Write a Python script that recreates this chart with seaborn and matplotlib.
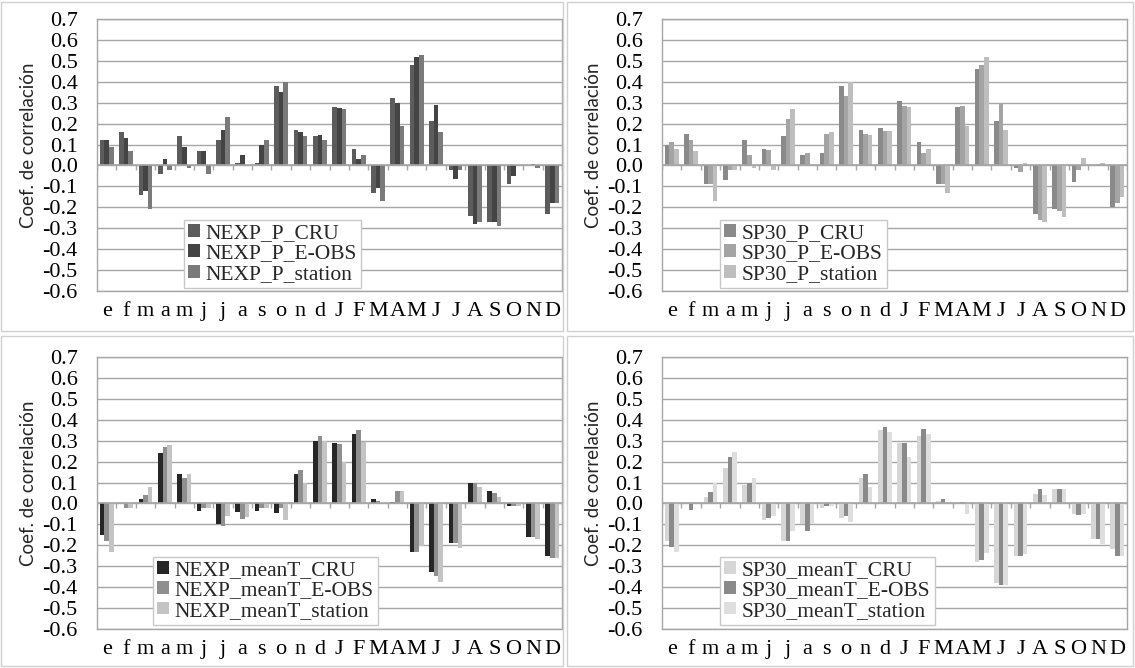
import numpy as np
import pandas as pd
import matplotlib
matplotlib.use("Agg")
import matplotlib.pyplot as plt
from matplotlib.patches import Rectangle
import seaborn as sns

# -----------------------------------------
# Data
# -----------------------------------------

months = ["e", "f", "m", "a", "m", "j", "j", "a", "s", "o", "n", "d",
          "J", "F", "M", "A", "M", "J", "J", "A", "S", "O", "N", "D"]

yticks = [-0.6, -0.5, -0.4, -0.3, -0.2, -0.1, 0.0, 0.1, 0.2, 0.3, 0.4, 0.5, 0.6, 0.7]
ytick_labels = ["-0.6", "-0.5", "-0.4", "-0.3", "-0.2", "-0.1", "0.0",
                "0.1", "0.2", "0.3", "0.4", "0.5", "0.6", "0.7"]

nexp_p_cru = [0.12, 0.16, -0.14, -0.04, 0.14, 0.07, 0.12, 0.01, 0.01, 0.38, 0.17, 0.14,
              0.28, 0.08, -0.13, 0.32, 0.48, 0.21, -0.02, -0.24, -0.27, -0.09, 0.0, -0.23]
nexp_p_eobs = [0.12, 0.13, -0.12, 0.03, 0.09, 0.07, 0.17, 0.05, 0.10, 0.35, 0.16, 0.145,
               0.275, 0.03, -0.11, 0.30, 0.52, 0.29, -0.065, -0.28, -0.27, -0.05, 0.005, -0.18]
nexp_p_station = [0.09, 0.07, -0.21, -0.02, -0.01, -0.04, 0.23, 0.0, 0.12, 0.40, 0.14, 0.12,
                  0.27, 0.05, -0.17, 0.19, 0.53, 0.16, -0.02, -0.27, -0.29, 0.0, -0.01, -0.18]

sp30_p_cru = [0.10, 0.15, -0.09, -0.07, 0.12, 0.08, 0.14, 0.05, 0.06, 0.38, 0.17, 0.18,
              0.31, 0.11, -0.09, 0.28, 0.46, 0.21, -0.01, -0.23, -0.21, -0.08, 0.0, -0.20]
sp30_p_eobs = [0.11, 0.12, -0.09, -0.02, 0.05, 0.075, 0.22, 0.06, 0.15, 0.33, 0.15, 0.165,
               0.285, 0.06, -0.09, 0.285, 0.48, 0.30, -0.03, -0.26, -0.22, -0.02, 0.005, -0.18]
sp30_p_station = [0.08, 0.07, -0.17, -0.02, -0.01, -0.02, 0.27, 0.0, 0.16, 0.40, 0.145, 0.165,
                  0.28, 0.08, -0.13, 0.19, 0.52, 0.17, 0.01, -0.27, -0.245, 0.035, 0.01, -0.15]

nexp_t_cru = [-0.15, 0.0, 0.02, 0.24, 0.14, -0.035, -0.10, -0.04, -0.035, -0.045, 0.14, 0.30,
              0.29, 0.33, 0.02, 0.005, -0.23, -0.33, -0.19, 0.10, 0.06, -0.01, -0.16, -0.25]
nexp_t_eobs = [-0.18, -0.02, 0.04, 0.27, 0.12, -0.02, -0.11, -0.075, -0.02, -0.02, 0.16, 0.32,
               0.285, 0.35, 0.01, 0.06, -0.23, -0.345, -0.19, 0.10, 0.05, -0.01, -0.16, -0.26]
nexp_t_station = [-0.23, -0.02, 0.08, 0.28, 0.14, -0.02, -0.06, -0.065, -0.02, -0.08, 0.10, 0.30,
                  0.20, 0.295, 0.0, 0.06, -0.205, -0.375, -0.215, 0.08, 0.03, -0.01, -0.17, -0.26]

sp30_t_cru = [-0.18, 0.0, 0.03, 0.17, 0.09, -0.08, -0.18, -0.10, -0.02, -0.07, 0.12, 0.35,
              0.29, 0.32, 0.01, 0.0, -0.28, -0.38, -0.25, 0.045, 0.07, -0.05, -0.17, -0.22]
sp30_t_eobs = [-0.21, -0.03, 0.055, 0.22, 0.10, -0.07, -0.18, -0.13, -0.01, -0.06, 0.14, 0.365,
               0.29, 0.355, 0.02, 0.005, -0.27, -0.39, -0.25, 0.07, 0.07, -0.055, -0.17, -0.25]
sp30_t_station = [-0.23, 0.0, 0.10, 0.245, 0.12, -0.06, -0.13, -0.10, -0.01, -0.09, 0.08, 0.34,
                  0.22, 0.33, 0.0, -0.05, -0.235, -0.39, -0.24, 0.04, 0.07, -0.05, -0.195, -0.25]

# -----------------------------------------
# Style
# -----------------------------------------

sns.set_style("white")
plt.rcParams['font.family'] = ['Liberation Serif', 'DejaVu Serif']
plt.rcParams['axes.unicode_minus'] = False

grid_color = "#a6a6a6"

fig = plt.figure(figsize=(11.35, 6.68), dpi=100)

# panel frames (light gray boxes around each chart)
for (x0, y0, w, h) in [(1, 2, 562, 329), (567, 2, 566, 329),
                       (1, 336, 562, 330), (567, 336, 566, 330)]:
    fig.add_artist(Rectangle((x0 / 1135, 1 - (y0 + h) / 668), w / 1135, h / 668,
                             transform=fig.transFigure, fill=False,
                             edgecolor="#d0d0d0", linewidth=1.0))

panels = [
    ([0.0855, 0.5644, 0.4097, 0.4072],
     ["NEXP_P_CRU", "NEXP_P_E-OBS", "NEXP_P_station"],
     [nexp_p_cru, nexp_p_eobs, nexp_p_station],
     ["#5c5c5c", "#444444", "#7a7a7a"], (0.187, 0.011)),
    ([0.5833, 0.5644, 0.4097, 0.4072],
     ["SP30_P_CRU", "SP30_P_E-OBS", "SP30_P_station"],
     [sp30_p_cru, sp30_p_eobs, sp30_p_station],
     ["#8a8a8a", "#a4a4a4", "#bebebe"], (0.125, 0.011)),
    ([0.0855, 0.0584, 0.4097, 0.4072],
     ["NEXP_meanT_CRU", "NEXP_meanT_E-OBS", "NEXP_meanT_station"],
     [nexp_t_cru, nexp_t_eobs, nexp_t_station],
     ["#262626", "#8f8f8f", "#c4c4c4"], (0.12, 0.015)),
    ([0.5833, 0.0584, 0.4097, 0.4072],
     ["SP30_meanT_CRU", "SP30_meanT_E-OBS", "SP30_meanT_station"],
     [sp30_t_cru, sp30_t_eobs, sp30_t_station],
     ["#d6d6d6", "#8a8a8a", "#dedede"], (0.125, 0.015)),
]

for rect, names, series, colors, anchor in panels:
    ax = fig.add_axes(rect)

    df = pd.DataFrame({
        "pos": list(range(len(months))) * 3,
        "value": series[0] + series[1] + series[2],
        "serie": [names[0]] * len(months) + [names[1]] * len(months) + [names[2]] * len(months),
    })

    sns.barplot(data=df, x="pos", y="value", hue="serie",
                order=list(range(len(months))), hue_order=names,
                palette=colors, width=0.72, errorbar=None,
                linewidth=0, saturation=1, ax=ax, zorder=3)

    ax.set_ylim(-0.6, 0.7)
    ax.set_xlim(-0.5, len(months) - 0.5)
    ax.set_yticks(yticks)
    ax.set_yticklabels(ytick_labels)
    ax.set_xticks(range(len(months)))
    ax.set_xticklabels(months)
    ax.tick_params(axis="both", length=0, labelsize=16, colors="black")
    ax.tick_params(axis="y", pad=14)
    ax.tick_params(axis="x", pad=8)

    # horizontal gridlines
    for y in yticks:
        ax.axhline(y, color=grid_color, linewidth=1.0, zorder=1)

    # zero axis with small tick marks at category boundaries
    ax.axhline(0, color=grid_color, linewidth=1.2, zorder=4)
    ax.vlines(np.arange(-0.5, len(months), 1), -0.02, 0, color=grid_color,
              linewidth=1.0, zorder=4)

    for s in ax.spines.values():
        s.set_color(grid_color)
        s.set_linewidth(1.0)

    ax.set_xlabel("")
    ax.set_ylabel("Coef. de correlación", family=["Lato", "DejaVu Sans"], fontsize=13.5)
    ax.yaxis.set_label_coords(-0.13, 0.535)

    handles, labels = ax.get_legend_handles_labels()
    ax.legend(handles, labels, loc="lower left", bbox_to_anchor=anchor,
              fontsize=15.5, frameon=True, fancybox=False, framealpha=1,
              edgecolor="#c8c8c8", handlelength=0.55, handleheight=0.55,
              handletextpad=0.25, labelspacing=0.05, borderpad=0.2,
              borderaxespad=0)

fig.savefig("out.png", dpi=100)
